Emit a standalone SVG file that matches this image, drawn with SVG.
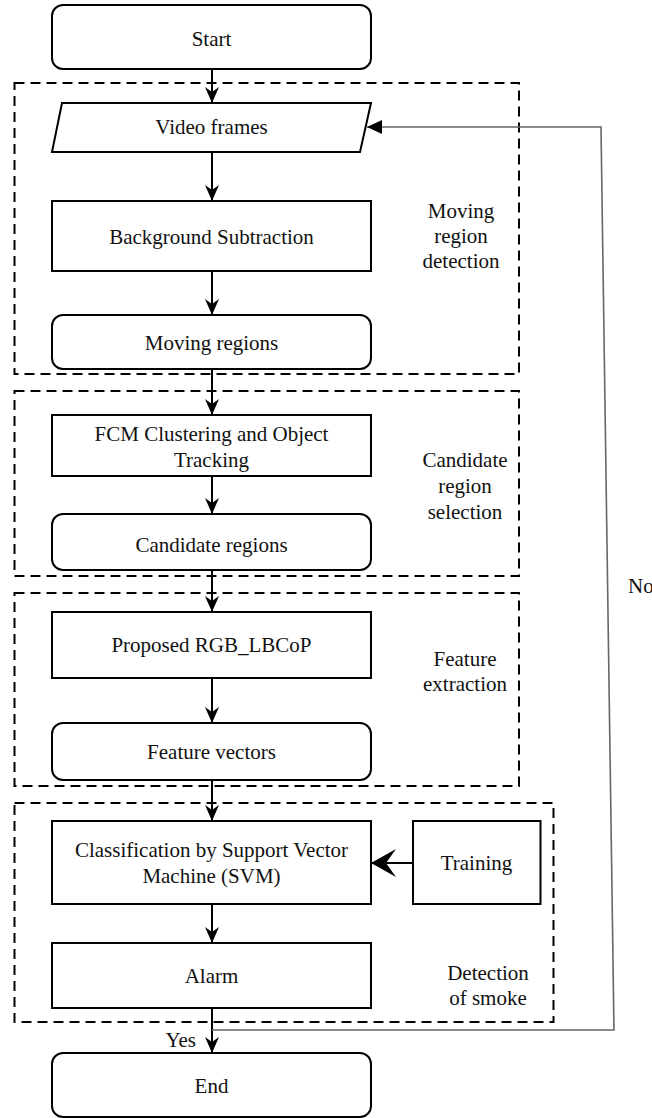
<svg xmlns="http://www.w3.org/2000/svg" width="652" height="1118" viewBox="0 0 652 1118">
  <style>
    .box { fill: #ffffff; stroke: #000000; stroke-width: 2; }
    .group { fill: none; stroke: #000000; stroke-width: 2; stroke-dasharray: 10 6; }
    .flow { fill: none; stroke: #000000; stroke-width: 2; }
    .back { fill: none; stroke: #666666; stroke-width: 1.6; }
    text { font-family: "Liberation Serif", "Times New Roman", serif; font-size: 21px; fill: #111111; }
    .c { text-anchor: middle; }
  </style>
  <defs>
    <marker id="head" markerUnits="userSpaceOnUse" markerWidth="16" markerHeight="18" refX="16" refY="7" orient="auto">
      <path d="M16,7 L0,0 L5,7 L0,14 Z" fill="#000000"/>
    </marker>
    <marker id="headBig" markerUnits="userSpaceOnUse" markerWidth="28" markerHeight="32" refX="26" refY="15" orient="auto">
      <path d="M26,15 L1,1 L11,15 L1,29 Z" fill="#000000"/>
    </marker>
    <marker id="headGrey" markerUnits="userSpaceOnUse" markerWidth="16" markerHeight="16" refX="15" refY="7" orient="auto">
      <path d="M15,7 L0,0 L0,14 Z" fill="#000000"/>
    </marker>
  </defs>

  <!-- dashed stage frames -->
  <g id="stage-moving">
    <rect class="group" x="14.5" y="83" width="504.5" height="291"/>
    <text class="c" x="461" y="218">Moving</text>
    <text class="c" x="461" y="243">region</text>
    <text class="c" x="461" y="268">detection</text>
  </g>
  <g id="stage-candidate">
    <rect class="group" x="14.5" y="391" width="504.5" height="185"/>
    <text class="c" x="465" y="467">Candidate</text>
    <text class="c" x="465" y="493">region</text>
    <text class="c" x="465" y="519">selection</text>
  </g>
  <g id="stage-feature">
    <rect class="group" x="14.5" y="593" width="504.5" height="193"/>
    <text class="c" x="465" y="666">Feature</text>
    <text class="c" x="465" y="691">extraction</text>
  </g>
  <g id="stage-detection">
    <rect class="group" x="14.5" y="803" width="539" height="219"/>
    <text class="c" x="488" y="980">Detection</text>
    <text class="c" x="488" y="1005">of smoke</text>
  </g>

  <!-- connectors -->
  <g id="connectors">
    <line class="flow" x1="212" y1="69" x2="212" y2="103" marker-end="url(#head)"/>
    <line class="flow" x1="212" y1="152" x2="212" y2="201" marker-end="url(#head)"/>
    <line class="flow" x1="212" y1="271" x2="212" y2="315" marker-end="url(#head)"/>
    <line class="flow" x1="212" y1="369" x2="212" y2="415" marker-end="url(#head)"/>
    <line class="flow" x1="212" y1="476" x2="212" y2="514" marker-end="url(#head)"/>
    <line class="flow" x1="212" y1="570" x2="212" y2="612" marker-end="url(#head)"/>
    <line class="flow" x1="212" y1="678" x2="212" y2="723" marker-end="url(#head)"/>
    <line class="flow" x1="212" y1="780" x2="212" y2="821" marker-end="url(#head)"/>
    <line class="flow" x1="212" y1="904" x2="212" y2="943" marker-end="url(#head)"/>
    <line class="flow" x1="212" y1="1008" x2="212" y2="1053" marker-end="url(#head)"/>
    <line class="flow" x1="413" y1="863" x2="371" y2="863" marker-end="url(#headBig)"/>
    <polyline class="back" points="212,1030 614,1030 601,127 367,127" marker-end="url(#headGrey)"/>
    <text x="196" y="1047" style="text-anchor:end">Yes</text>
    <text x="628" y="593">No</text>
  </g>

  <!-- process nodes -->
  <g id="start">
    <rect class="box" x="52" y="5" width="319" height="64" rx="11"/>
    <text class="c" x="211.5" y="46">Start</text>
  </g>
  <g id="video-frames">
    <polygon class="box" points="62,103 371,103 360,152 52,152"/>
    <text class="c" x="211.5" y="134">Video frames</text>
  </g>
  <g id="background-subtraction">
    <rect class="box" x="52" y="201" width="319" height="70"/>
    <text class="c" x="211.5" y="244">Background Subtraction</text>
  </g>
  <g id="moving-regions">
    <rect class="box" x="52" y="315" width="319" height="54" rx="11"/>
    <text class="c" x="211.5" y="350">Moving regions</text>
  </g>
  <g id="fcm-tracking">
    <rect class="box" x="52" y="415" width="319" height="61"/>
    <text class="c" x="211.5" y="441">FCM Clustering and Object</text>
    <text class="c" x="211.5" y="467">Tracking</text>
  </g>
  <g id="candidate-regions">
    <rect class="box" x="52" y="514" width="319" height="56" rx="11"/>
    <text class="c" x="211.5" y="552">Candidate regions</text>
  </g>
  <g id="rgb-lbcop">
    <rect class="box" x="52" y="612" width="319" height="66"/>
    <text class="c" x="211.5" y="652">Proposed RGB_LBCoP</text>
  </g>
  <g id="feature-vectors">
    <rect class="box" x="52" y="723" width="319" height="57" rx="11"/>
    <text class="c" x="211.5" y="759">Feature vectors</text>
  </g>
  <g id="svm">
    <rect class="box" x="52" y="821" width="319" height="83"/>
    <text class="c" x="211.5" y="857">Classification by Support Vector</text>
    <text class="c" x="211.5" y="883">Machine (SVM)</text>
  </g>
  <g id="training">
    <rect class="box" x="413" y="821" width="127.5" height="83"/>
    <text class="c" x="476.5" y="870">Training</text>
  </g>
  <g id="alarm">
    <rect class="box" x="52" y="943" width="319" height="65"/>
    <text class="c" x="211.5" y="983">Alarm</text>
  </g>
  <g id="end">
    <rect class="box" x="52" y="1053" width="319" height="64" rx="11"/>
    <text class="c" x="211.5" y="1093">End</text>
  </g>
</svg>
